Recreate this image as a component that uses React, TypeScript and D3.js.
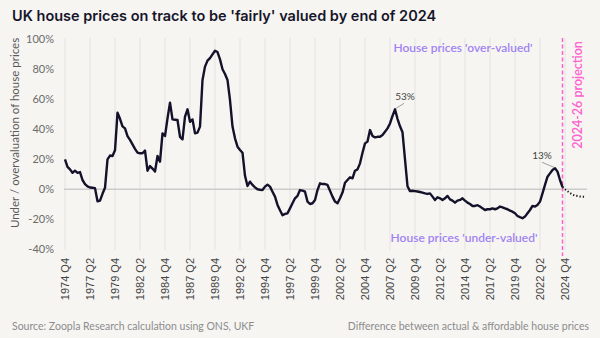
import React from "react";
import * as d3 from "d3";

// Quarterly series, starting 1974 Q4 (index 0)
const valuation: number[] = [
  20, 15, 13.3, 11, 12.4, 11, 11.5, 6.2, 3.5, 2,
  1.2, 1, 0.8, -8, -7.5, -3, 1, 20, 22.5, 22.2,
  26, 51, 47, 42, 40.6, 35.5, 33, 30, 27, 24.5,
  24, 24, 25.8, 12.4, 15.5, 13.8, 11.8, 22.2, 18.4, 37.3,
  35.5, 47.3, 57.8, 46.6, 46.4, 46.2, 35, 33.3, 48.4, 53.3,
  45, 46.6, 37.3, 37.8, 41.8, 72.9, 81.8, 85.8, 87.5, 90,
  92.4, 91.5, 86.6, 80, 76.9, 72.9, 59.5, 41.8, 34, 28.4,
  26.2, 24.4, 9, 2.2, 5.1, 2.9, 1.3, 0, -0.3, -0.5,
  1.8, 3.1, 1.8, -1.6, -4.9, -10.4, -14, -17.3, -16.4, -16,
  -12.7, -9.3, -6, -4.4, -0.5, -0.9, -1.6, -8.2, -9.8, -9.3,
  -7.1, -0.5, 4, 3.5, 3.5, 2.9, -0.9, -4.9, -8.2, -9.3,
  -6, -2.2, 4.4, 6.2, 8, 7.3, 12.4, 13.3, 17.3, 24.4,
  30.6, 31.8, 39.5, 35.5, 34.6, 35, 35, 36.2, 38.4, 40.6,
  43.9, 48.9, 53.3, 47, 42, 38, 20, 2, -1.2, -1,
  -1.2, -1.5, -1.8, -2.2, -2.7, -3.1, -2.7, -4.9, -7.1, -5.3,
  -6, -7.1, -6, -4.4, -6.7, -7.5, -8.9, -7.5, -7.1, -6,
  -7.5, -8.9, -9.8, -11.1, -11.1, -10.6, -11.5, -12.7, -13.8, -13.3,
  -13.3, -12.7, -13.3, -12.7, -11.5, -12, -12.7, -13.3, -14.2, -14.9,
  -16, -17.8, -18.6, -19.3, -18.2, -16, -13.8, -11.1, -11.5, -10.4,
  -8.2, -2.7, 2.9, 8.4, 10.6, 12.9, 14, 11.8, 6.2, 1.5,
];

// Projection 2024-26, starting at the last actual quarter
const projectionStart = 199;
const projection: number[] = [1.5, 0, -1.3, -2.5, -3.5, -4.2, -4.5, -4.8, -4.9, -5];

const tickLabels: string[] = [
  "1974 Q4", "1977 Q2", "1979 Q4", "1982 Q2", "1984 Q4", "1987 Q2", "1989 Q4",
  "1992 Q2", "1994 Q4", "1997 Q2", "1999 Q4", "2002 Q2", "2004 Q4", "2007 Q2",
  "2009 Q4", "2012 Q2", "2014 Q4", "2017 Q2", "2019 Q4", "2022 Q2", "2024 Q4",
];
const tickStep = 10;
const yTicks: number[] = [100, 80, 60, 40, 20, 0, -20, -40];

const peakIndexes: number[] = [132, 196];
const peakLabels: string[] = ["53%", "13%"];

const W = 600;
const H = 338;
const BG = "#f6f5f2";
const NAVY = "#13122a";
const PURPLE = "#a183f3";
const PINK = "#ff62cf";

export default function App() {
  const lastIndex = projectionStart + projection.length - 1;
  const x = d3.scaleLinear().domain([0, lastIndex]).range([65, 65 + 2.5 * lastIndex]);
  const y = d3.scaleLinear().domain([-40, 100]).range([249.3, 39.3]);

  const line = d3
    .line<number>()
    .x((_, i) => x(i))
    .y((d) => y(d));
  const projLine = d3
    .line<number>()
    .x((_, i) => x(projectionStart + i))
    .y((d) => y(d));

  const projX = x(projectionStart);
  const labelFont = "Lato, 'Noto Sans', sans-serif";

  return (
    <div style={{ position: "fixed", left: 0, top: 0 }}>
      <svg width={W} height={H} style={{ display: "block" }}>
        <rect width={W} height={H} fill={BG} />
        <text x={12} y={21} fontFamily="Inter, sans-serif" fontWeight={600} fontSize={14.5} fill="#16152a">
          UK house prices on track to be 'fairly' valued by end of 2024
        </text>

        {/* vertical gridlines */}
        {tickLabels.map((t, i) => (
          <line key={t} x1={x(i * tickStep)} x2={x(i * tickStep)} y1={38} y2={250} stroke="#e4e3e0" strokeWidth={1} />
        ))}

        {/* y tick labels */}
        {yTicks.map((v) => (
          <text key={v} x={54} y={y(v)} dy="0.35em" textAnchor="end" fontFamily={labelFont} fontSize={11} fill="#6b6b6b">
            {v}%
          </text>
        ))}
        <text
          transform={`translate(19,133) rotate(-90)`}
          textAnchor="middle"
          fontFamily={labelFont}
          fontSize={11.5}
          fill="#5a5a5a"
        >
          Under / overvaluation of house prices
        </text>

        {/* x tick labels */}
        {tickLabels.map((t, i) => (
          <text
            key={t}
            transform={`translate(${x(i * tickStep)},258) rotate(-90)`}
            dy="0.35em"
            textAnchor="end"
            fontFamily="'Liberation Sans', Arial, sans-serif"
            fontSize={11}
            fill="#444"
          >
            {t}
          </text>
        ))}

        {/* zero line */}
        <line x1={64} x2={587} y1={y(0)} y2={y(0)} stroke="#cdcccb" strokeWidth={1.6} />

        {/* annotations */}
        <text x={463} y={52} textAnchor="middle" fontFamily={labelFont} fontWeight={600} fontSize={12} fill={PURPLE}>
          House prices 'over-valued'
        </text>
        <text x={464} y={242} textAnchor="middle" fontFamily={labelFont} fontWeight={600} fontSize={12} fill={PURPLE}>
          House prices 'under-valued'
        </text>

        {/* projection marker */}
        <line x1={projX} x2={projX} y1={38} y2={256} stroke={PINK} strokeWidth={1.5} strokeDasharray="4,2.5" />
        <text
          transform={`translate(582,95) rotate(-90)`}
          textAnchor="middle"
          fontFamily={labelFont}
          fontWeight={600}
          fontSize={12.5}
          fill={PINK}
        >
          2024-26 projection
        </text>

        {/* series */}
        <path d={line(valuation) ?? ""} fill="none" stroke={NAVY} strokeWidth={2.4} strokeLinejoin="round" />
        <path d={projLine(projection) ?? ""} fill="none" stroke="#1a1a1a" strokeWidth={2} strokeDasharray="1.3,2" />

        {/* peak labels */}
        {peakIndexes.map((pi, k) => {
          const px = x(pi);
          const py = y(valuation[pi]);
          const lx = k === 0 ? px + 10 : px - 13;
          const ly = py - 8;
          return (
            <g key={pi}>
              <line x1={px + (k === 0 ? 1 : -1)} y1={py - 1} x2={lx + (k === 0 ? -1 : 0)} y2={ly + 2} stroke="#8a8a8a" strokeWidth={0.8} />
              <text x={lx} y={ly - 1} textAnchor="middle" fontFamily={labelFont} fontSize={10} fill="#444">
                {peakLabels[k]}
              </text>
            </g>
          );
        })}

        {/* footer */}
        <text x={12} y={330} fontFamily={labelFont} fontSize={10.5} fill="#8c8c8c">
          Source: Zoopla Research calculation using ONS, UKF
        </text>
        <text x={589} y={330} textAnchor="end" fontFamily={labelFont} fontSize={10.5} fill="#8c8c8c">
          Difference between actual &amp; affordable house prices
        </text>
      </svg>
    </div>
  );
}
